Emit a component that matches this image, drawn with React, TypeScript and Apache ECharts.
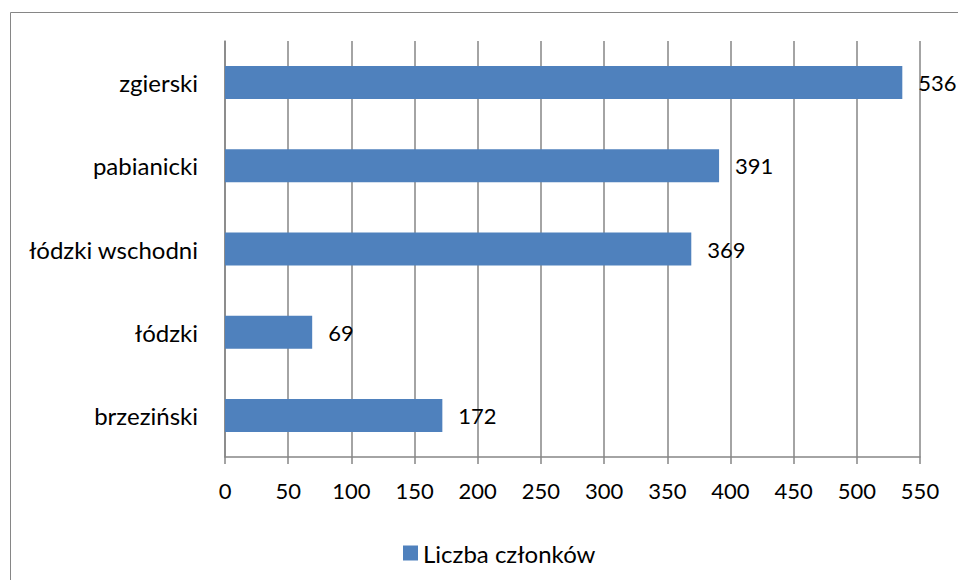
import React, { useEffect, useRef } from "react";
import * as echarts from "echarts";

const categories = ["brzeziński", "łódzki", "łódzki wschodni", "pabianicki", "zgierski"];
const values = [172, 69, 369, 391, 536];
const seriesName = "Liczba członków";

export default function App() {
  const ref = useRef<HTMLDivElement>(null);
  useEffect(() => {
    if (!ref.current) return;
    const chart = echarts.init(ref.current, null, { renderer: "svg" });
    const font = "Lato, 'Open Sans', sans-serif";
    chart.setOption({
      animation: false,
      backgroundColor: "#ffffff",
      textStyle: { fontFamily: font },
      graphic: [
        {
          type: "rect",
          shape: { x: 10.5, y: 12.5, width: 980, height: 600 },
          style: { fill: "none", stroke: "#868686", lineWidth: 1 },
          silent: true,
        },
      ],
      grid: { left: 225, right: 38, top: 41, bottom: 123, containLabel: false },
      xAxis: {
        type: "value",
        min: 0,
        max: 550,
        interval: 50,
        axisLine: { show: true, lineStyle: { color: "#868686", width: 1.5 } },
        axisTick: { show: true, length: 7, lineStyle: { color: "#868686", width: 1.5 } },
        splitLine: { show: true, lineStyle: { color: "#868686", width: 1.5 } },
        axisLabel: { color: "#000", fontSize: 22, fontFamily: font, margin: 22 },
      },
      yAxis: {
        type: "category",
        data: categories,
        axisLine: { show: true, lineStyle: { color: "#868686", width: 1.5 } },
        axisTick: { show: false },
        axisLabel: { color: "#000", fontSize: 24, fontFamily: font, margin: 27 },
      },
      legend: {
        data: [seriesName],
        left: 398,
        top: 536,
        icon: "rect",
        itemWidth: 15,
        itemHeight: 15,
        itemGap: 8,
        textStyle: { color: "#000", fontSize: 24, fontFamily: font },
      },
      series: [
        {
          name: seriesName,
          type: "bar",
          data: values,
          barWidth: 33,
          itemStyle: { color: "#4F81BD" },
          label: {
            show: true,
            position: "right",
            distance: 16,
            color: "#000",
            fontSize: 22,
            fontFamily: font,
          },
        },
      ],
    });
    return () => chart.dispose();
  }, []);
  return (
    <div
      ref={ref}
      style={{ position: "fixed", left: 0, top: 0, width: 958, height: 580 }}
    />
  );
}
